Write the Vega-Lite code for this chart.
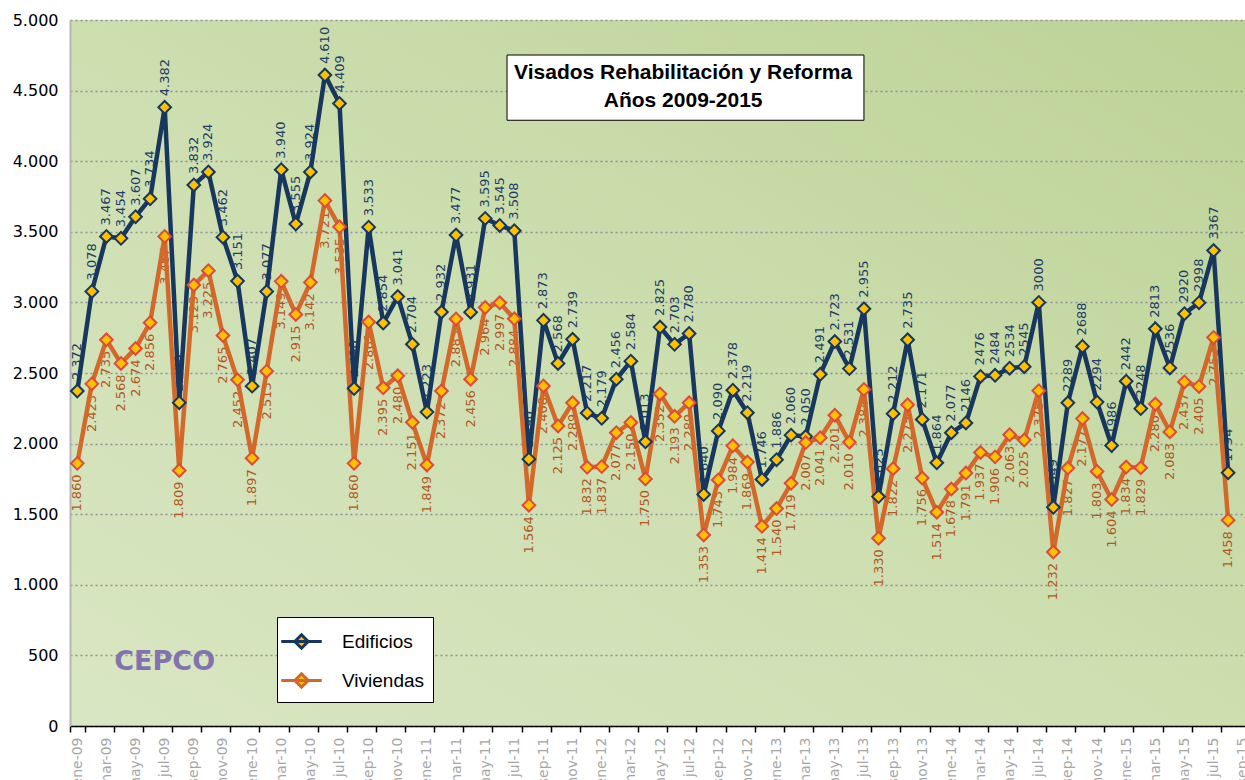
{
  "$schema": "https://vega.github.io/schema/vega-lite/v6.json",
  "width": 1180,
  "height": 706,
  "autosize": {"type": "none"},
  "padding": {"left": 70, "top": 20, "right": 0, "bottom": 54},
  "background": "white",
  "view": {"stroke": null, "fill": {"gradient": "linear", "x1": 0, "y1": 1, "x2": 1, "y2": 0, "stops": [{"offset": 0, "color": "#d9e6c3"}, {"offset": 0.5, "color": "#cddeaf"}, {"offset": 1, "color": "#bcd296"}]}},
  "config": {"font": "DejaVu Sans"},
  "data": {"values": [
    {"m":"ene-09","E":2372,"V":1860,"le":"2.372","lv":"1.860"},
    {"m":"feb-09","E":3078,"V":2423,"le":"3.078","lv":"2.423"},
    {"m":"mar-09","E":3467,"V":2735,"le":"3.467","lv":"2.735"},
    {"m":"abr-09","E":3454,"V":2568,"le":"3.454","lv":"2.568"},
    {"m":"may-09","E":3607,"V":2674,"le":"3.607","lv":"2.674"},
    {"m":"jun-09","E":3734,"V":2856,"le":"3.734","lv":"2.856"},
    {"m":"jul-09","E":4382,"V":3467,"le":"4.382","lv":"3.467"},
    {"m":"ago-09","E":2290,"V":1809,"le":"2.290","lv":"1.809"},
    {"m":"sep-09","E":3832,"V":3123,"le":"3.832","lv":"3.123"},
    {"m":"oct-09","E":3924,"V":3225,"le":"3.924","lv":"3.225"},
    {"m":"nov-09","E":3462,"V":2765,"le":"3.462","lv":"2.765"},
    {"m":"dic-09","E":3151,"V":2452,"le":"3.151","lv":"2.452"},
    {"m":"ene-10","E":2407,"V":1897,"le":"2.407","lv":"1.897"},
    {"m":"feb-10","E":3077,"V":2513,"le":"3.077","lv":"2.513"},
    {"m":"mar-10","E":3940,"V":3149,"le":"3.940","lv":"3.149"},
    {"m":"abr-10","E":3555,"V":2915,"le":"3.555","lv":"2.915"},
    {"m":"may-10","E":3924,"V":3142,"le":"3.924","lv":"3.142"},
    {"m":"jun-10","E":4610,"V":3721,"le":"4.610","lv":"3.721"},
    {"m":"jul-10","E":4409,"V":3535,"le":"4.409","lv":"3.535"},
    {"m":"ago-10","E":2390,"V":1860,"le":"2.390","lv":"1.860"},
    {"m":"sep-10","E":3533,"V":2861,"le":"3.533","lv":"2.861"},
    {"m":"oct-10","E":2854,"V":2395,"le":"2.854","lv":"2.395"},
    {"m":"nov-10","E":3041,"V":2480,"le":"3.041","lv":"2.480"},
    {"m":"dic-10","E":2704,"V":2151,"le":"2.704","lv":"2.151"},
    {"m":"ene-11","E":2223,"V":1849,"le":"2.223","lv":"1.849"},
    {"m":"feb-11","E":2932,"V":2372,"le":"2.932","lv":"2.372"},
    {"m":"mar-11","E":3477,"V":2883,"le":"3.477","lv":"2.883"},
    {"m":"abr-11","E":2931,"V":2456,"le":"2.931","lv":"2.456"},
    {"m":"may-11","E":3595,"V":2964,"le":"3.595","lv":"2.964"},
    {"m":"jun-11","E":3545,"V":2997,"le":"3.545","lv":"2.997"},
    {"m":"jul-11","E":3508,"V":2884,"le":"3.508","lv":"2.884"},
    {"m":"ago-11","E":1890,"V":1564,"le":"1.890","lv":"1.564"},
    {"m":"sep-11","E":2873,"V":2408,"le":"2.873","lv":"2.408"},
    {"m":"oct-11","E":2568,"V":2125,"le":"2.568","lv":"2.125"},
    {"m":"nov-11","E":2739,"V":2289,"le":"2.739","lv":"2.289"},
    {"m":"dic-11","E":2217,"V":1832,"le":"2.217","lv":"1.832"},
    {"m":"ene-12","E":2179,"V":1837,"le":"2.179","lv":"1.837"},
    {"m":"feb-12","E":2456,"V":2077,"le":"2.456","lv":"2.077"},
    {"m":"mar-12","E":2584,"V":2150,"le":"2.584","lv":"2.150"},
    {"m":"abr-12","E":2013,"V":1750,"le":"2.013","lv":"1.750"},
    {"m":"may-12","E":2825,"V":2352,"le":"2.825","lv":"2.352"},
    {"m":"jun-12","E":2703,"V":2193,"le":"2.703","lv":"2.193"},
    {"m":"jul-12","E":2780,"V":2289,"le":"2.780","lv":"2.289"},
    {"m":"ago-12","E":1640,"V":1353,"le":"1.640","lv":"1.353"},
    {"m":"sep-12","E":2090,"V":1743,"le":"2.090","lv":"1.743"},
    {"m":"oct-12","E":2378,"V":1984,"le":"2.378","lv":"1.984"},
    {"m":"nov-12","E":2219,"V":1869,"le":"2.219","lv":"1.869"},
    {"m":"dic-12","E":1746,"V":1414,"le":"1.746","lv":"1.414"},
    {"m":"ene-13","E":1886,"V":1540,"le":"1.886","lv":"1.540"},
    {"m":"feb-13","E":2060,"V":1719,"le":"2.060","lv":"1.719"},
    {"m":"mar-13","E":2050,"V":2007,"le":"2.050","lv":"2.007"},
    {"m":"abr-13","E":2491,"V":2041,"le":"2.491","lv":"2.041"},
    {"m":"may-13","E":2723,"V":2201,"le":"2.723","lv":"2.201"},
    {"m":"jun-13","E":2531,"V":2010,"le":"2.531","lv":"2.010"},
    {"m":"jul-13","E":2955,"V":2384,"le":"2.955","lv":"2.384"},
    {"m":"ago-13","E":1625,"V":1330,"le":"1.625","lv":"1.330"},
    {"m":"sep-13","E":2212,"V":1822,"le":"2.212","lv":"1.822"},
    {"m":"oct-13","E":2735,"V":2275,"le":"2.735","lv":"2.275"},
    {"m":"nov-13","E":2171,"V":1756,"le":"2.171","lv":"1.756"},
    {"m":"dic-13","E":1864,"V":1514,"le":"1.864","lv":"1.514"},
    {"m":"ene-14","E":2077,"V":1678,"le":"2.077","lv":"1.678"},
    {"m":"feb-14","E":2146,"V":1791,"le":"2146","lv":"1.791"},
    {"m":"mar-14","E":2476,"V":1937,"le":"2476","lv":"1.937"},
    {"m":"abr-14","E":2484,"V":1906,"le":"2484","lv":"1.906"},
    {"m":"may-14","E":2534,"V":2063,"le":"2534","lv":"2.063"},
    {"m":"jun-14","E":2545,"V":2025,"le":"2545","lv":"2.025"},
    {"m":"jul-14","E":3000,"V":2375,"le":"3000","lv":"2.375"},
    {"m":"ago-14","E":1549,"V":1232,"le":"1.549","lv":"1.232"},
    {"m":"sep-14","E":2289,"V":1827,"le":"2289","lv":"1.827"},
    {"m":"oct-14","E":2688,"V":2177,"le":"2688","lv":"2.177"},
    {"m":"nov-14","E":2294,"V":1803,"le":"2294","lv":"1.803"},
    {"m":"dic-14","E":1986,"V":1604,"le":"1986","lv":"1.604"},
    {"m":"ene-15","E":2442,"V":1834,"le":"2442","lv":"1.834"},
    {"m":"feb-15","E":2248,"V":1829,"le":"2248","lv":"1.829"},
    {"m":"mar-15","E":2813,"V":2280,"le":"2813","lv":"2.280"},
    {"m":"abr-15","E":2536,"V":2083,"le":"2536","lv":"2.083"},
    {"m":"may-15","E":2920,"V":2437,"le":"2920","lv":"2.437"},
    {"m":"jun-15","E":2998,"V":2405,"le":"2998","lv":"2.405"},
    {"m":"jul-15","E":3367,"V":2752,"le":"3367","lv":"2.752"},
    {"m":"ago-15","E":1794,"V":1458,"le":"1794","lv":"1.458"}
  ]},
  "layer": [
    {
      "mark": {"type": "text", "angle": 270, "align": "left", "baseline": "middle", "dx": 11, "fontSize": 13, "font": "DejaVu Sans", "color": "#213e66"},
      "encoding": {
        "x": {"field": "m", "type": "ordinal", "title": null,
          "scale": {"type": "band", "paddingInner": 0, "paddingOuter": 0, "domain": ["ene-09","feb-09","mar-09","abr-09","may-09","jun-09","jul-09","ago-09","sep-09","oct-09","nov-09","dic-09","ene-10","feb-10","mar-10","abr-10","may-10","jun-10","jul-10","ago-10","sep-10","oct-10","nov-10","dic-10","ene-11","feb-11","mar-11","abr-11","may-11","jun-11","jul-11","ago-11","sep-11","oct-11","nov-11","dic-11","ene-12","feb-12","mar-12","abr-12","may-12","jun-12","jul-12","ago-12","sep-12","oct-12","nov-12","dic-12","ene-13","feb-13","mar-13","abr-13","may-13","jun-13","jul-13","ago-13","sep-13","oct-13","nov-13","dic-13","ene-14","feb-14","mar-14","abr-14","may-14","jun-14","jul-14","ago-14","sep-14","oct-14","nov-14","dic-14","ene-15","feb-15","mar-15","abr-15","may-15","jun-15","jul-15","ago-15","sep-15"]},
          "axis": {"values": ["ene-09","mar-09","may-09","jul-09","sep-09","nov-09","ene-10","mar-10","may-10","jul-10","sep-10","nov-10","ene-11","mar-11","may-11","jul-11","sep-11","nov-11","ene-12","mar-12","may-12","jul-12","sep-12","nov-12","ene-13","mar-13","may-13","jul-13","sep-13","nov-13","ene-14","mar-14","may-14","jul-14","sep-14","nov-14","ene-15","mar-15","may-15","jul-15","sep-15"],
            "labelAngle": 270, "labelColor": "#a6a6a6", "labelFontSize": 14, "labelFont": "DejaVu Sans", "labelPadding": 5, "labelOverlap": false, "labelBound": false,
            "tickColor": "black", "tickSize": 6, "tickWidth": 1.5, "tickBand": "extent",
            "domainColor": "black", "domainWidth": 1.5, "grid": false}},
        "y": {"field": "E", "type": "quantitative", "title": null,
          "scale": {"domain": [0, 5000], "nice": false},
          "axis": {"values": [0,500,1000,1500,2000,2500,3000,3500,4000,4500,5000],
            "labelExpr": "replace(format(datum.value, ','), ',', '.')",
            "ticks": false, "labelPadding": 12, "labelFontSize": 16, "labelFont": "DejaVu Sans", "labelColor": "black",
            "domainColor": "#b5b5b5", "domainWidth": 2,
            "grid": true, "gridColor": "#8f8f9a", "gridDash": [2, 3], "gridWidth": 1.5}},
        "text": {"field": "le"}
      }
    },
    {
      "mark": {"type": "text", "angle": 270, "align": "right", "baseline": "middle", "dx": -11, "fontSize": 13, "font": "DejaVu Sans", "color": "#b2581f"},
      "encoding": {
        "x": {"field": "m", "type": "ordinal", "title": null},
        "y": {"field": "V", "type": "quantitative", "title": null},
        "text": {"field": "lv"}
      }
    },
    {
      "mark": {"type": "line", "strokeWidth": 4.5},
      "encoding": {
        "x": {"field": "m", "type": "ordinal", "title": null},
        "y": {"field": "E", "type": "quantitative", "title": null},
        "color": {"datum": "Edificios",
          "scale": {"domain": ["Edificios", "Viviendas"], "range": ["#17375e", "#d2692a"]},
          "legend": {"title": null, "orient": "none", "legendX": 207, "legendY": 597,
            "fillColor": "white", "strokeColor": "black", "padding": 8,
            "symbolType": "M-1.35,0H1.35M0,-0.45L0.45,0L0,0.45L-0.45,0Z",
            "symbolSize": 900, "symbolStrokeWidth": 3, "symbolFillColor": "#ffc000",
            "labelFontSize": 19, "labelFont": "Liberation Sans", "labelColor": "black",
            "labelOffset": 24, "rowPadding": 9}}
      }
    },
    {
      "mark": {"type": "line", "strokeWidth": 4.5},
      "encoding": {
        "x": {"field": "m", "type": "ordinal", "title": null},
        "y": {"field": "V", "type": "quantitative", "title": null},
        "color": {"datum": "Viviendas"}
      }
    },
    {
      "mark": {"type": "point", "shape": "diamond", "filled": true, "size": 160, "fill": "#ffc000", "stroke": "#17375e", "strokeWidth": 2, "opacity": 1},
      "encoding": {
        "x": {"field": "m", "type": "ordinal", "title": null},
        "y": {"field": "E", "type": "quantitative", "title": null}
      }
    },
    {
      "mark": {"type": "point", "shape": "diamond", "filled": true, "size": 160, "fill": "#ffc000", "stroke": "#dc4a3a", "strokeWidth": 2, "opacity": 1},
      "encoding": {
        "x": {"field": "m", "type": "ordinal", "title": null},
        "y": {"field": "V", "type": "quantitative", "title": null}
      }
    },
    {
      "data": {"values": [{}]},
      "mark": {"type": "rect", "fill": "#6f6f6f", "opacity": 0.55, "xOffset": 4, "yOffset": 4},
      "encoding": {
        "x": {"datum": "jul-11", "type": "ordinal", "bandPosition": 0},
        "x2": {"datum": "jul-13"},
        "y": {"datum": 4752, "type": "quantitative"},
        "y2": {"datum": 4290}
      }
    },
    {
      "data": {"values": [{}]},
      "mark": {"type": "rect", "fill": "white", "stroke": "black", "strokeWidth": 1},
      "encoding": {
        "x": {"datum": "jul-11", "type": "ordinal", "bandPosition": 0},
        "x2": {"datum": "jul-13"},
        "y": {"datum": 4752, "type": "quantitative"},
        "y2": {"datum": 4290}
      }
    },
    {
      "data": {"values": [{}]},
      "mark": {"type": "text", "font": "Liberation Sans", "fontWeight": "bold", "fontSize": 21, "color": "black", "align": "center", "baseline": "middle", "lineHeight": 28, "dx": -6},
      "encoding": {
        "x": {"datum": "jul-12", "type": "ordinal"},
        "y": {"datum": 4625, "type": "quantitative"},
        "text": {"value": ["Visados Rehabilitación y Reforma", "Años 2009-2015"]}
      }
    },
    {
      "data": {"values": [{}]},
      "mark": {"type": "text", "font": "DejaVu Sans", "fontWeight": "bold", "fontSize": 27, "color": "#8273ae", "align": "center", "baseline": "middle"},
      "encoding": {
        "x": {"datum": "jul-09", "type": "ordinal"},
        "y": {"datum": 450, "type": "quantitative"},
        "text": {"value": "CEPCO"}
      }
    }
  ]
}
